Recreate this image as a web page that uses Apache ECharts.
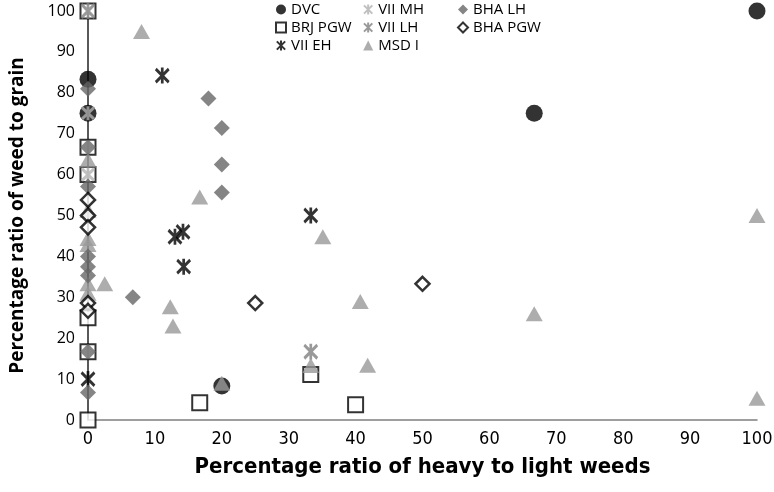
<!DOCTYPE html>
<html>
<head>
<meta charset="utf-8">
<script src="https://cdn.jsdelivr.net/npm/echarts@6/dist/echarts.min.js"></script>
<style>html,body{margin:0;padding:0;background:#fff}#c{width:774px;height:492px}</style>
</head>
<body>
<div id="c"></div>
<script>
// Data: [x = % heavy to light weeds, y = % weed to grain]
const xTicks = [0,10,20,30,40,50,60,70,80,90,100];
const yTicks = [0,10,20,30,40,50,60,70,80,90,100];
const dvc    = [[100,100],[66.7,75],[20,8.3],[0,83.3],[0,75]];
const brjPgw = [[0,100],[0,66.7],[0,60],[0,25],[0,16.7],[0,0],[16.7,4.2],[33.3,11.1],[40,3.7]];
const viiEh  = [[11.1,84.2],[13.0,44.8],[14.2,46.0],[14.3,37.5],[33.3,50],[0,10]];
const viiMh  = [[0,75],[0,60]];
const viiLh  = [[0,100],[33.3,16.7]];
const msdI   = [[8,95],[16.7,54.5],[35.1,44.8],[2.5,33.3],[12.3,27.7],[12.7,23],[40.7,29],[41.8,13.4],[20,9],[33.3,13.3],[66.7,26],[100,50],[100,5.3],[0,63.6],[0,51.3],[0,44.4],[0,42.9],[0,33.3],[0,31]];
const bhaLh  = [[18,78.6],[20,71.4],[20,62.5],[20,55.6],[6.7,30],[0,81],[0,66.7],[0,57.1],[0,40],[0,37.5],[0,35.3],[0,16.7],[0,6.7]];
const bhaPgw = [[25,28.6],[50,33.3],[0,53.8],[0,50],[0,47.1],[0,28.6],[0,26.7]];

const star = 'path://M0,1L10,11M10,1L0,11M5,0L5,12';
const chart = echarts.init(document.getElementById('c'));
const legendText = {fontFamily:'"Open Sans", sans-serif', fontSize:15, color:'#000', lineHeight:15};
const legendBase = {orient:'vertical', top:2, itemWidth:10, itemHeight:10, itemGap:3, textStyle:legendText, padding:0, selectedMode:false};
const narrow = '"DejaVu Sans Condensed","Liberation Sans Narrow",sans-serif';
chart.setOption({
  animation:false,
  backgroundColor:'#fff',
  legend:[
    Object.assign({left:275, data:['DVC','BRJ PGW','VII EH']}, legendBase),
    Object.assign({left:363, data:['VII MH','VII LH','MSD I']}, legendBase),
    Object.assign({left:457, data:['BHA LH','BHA PGW']}, legendBase)
  ],
  grid:{left:88, right:17, top:11, bottom:72, containLabel:false, outerBoundsMode:'none'},
  xAxis:{
    type:'value', min:xTicks[0], max:xTicks[xTicks.length-1], interval:10,
    name:'Percentage ratio of heavy to light weeds', nameLocation:'middle', nameGap:36,
    nameTextStyle:{fontFamily:narrow, fontWeight:'bold', fontSize:22, color:'#000'},
    axisLine:{show:true, onZero:false, lineStyle:{color:'#7f7f7f', width:1.5}},
    axisTick:{show:false},
    splitLine:{show:false},
    axisLabel:{margin:10, fontFamily:narrow, fontSize:18, color:'#000'}
  },
  yAxis:{
    type:'value', min:yTicks[0], max:yTicks[yTicks.length-1], interval:10,
    name:'Percentage ratio of weed to grain', nameLocation:'middle', nameGap:61,
    nameTextStyle:{fontFamily:'"Open Sans",sans-serif', fontWeight:'bold', fontSize:19, color:'#000'},
    axisLine:{show:true, onZero:false, lineStyle:{color:'#222', width:1.5}},
    axisTick:{show:false},
    splitLine:{show:false},
    axisLabel:{margin:13, fontFamily:'"Open Sans",sans-serif', fontSize:16, color:'#000'}
  },
  series:[
    {name:'DVC', type:'scatter', data:dvc, symbol:'circle', symbolSize:17, itemStyle:{color:'#000'}},
    {name:'BRJ PGW', type:'scatter', data:brjPgw, symbol:'rect', symbolSize:15, itemStyle:{color:'#fff', borderColor:'#000', borderWidth:2}},
    {name:'VII EH', type:'scatter', data:viiEh, symbol:star, symbolSize:[13,16], itemStyle:{color:'transparent', borderColor:'#000', borderWidth:3}},
    {name:'VII MH', type:'scatter', data:viiMh, symbol:star, symbolSize:[12,14], itemStyle:{color:'transparent', borderColor:'#b0b0b0', borderWidth:3}},
    {name:'VII LH', type:'scatter', data:viiLh, symbol:star, symbolSize:[13,16], itemStyle:{color:'transparent', borderColor:'#808080', borderWidth:3}},
    {name:'MSD I', type:'scatter', data:msdI, symbol:'triangle', symbolSize:[17,15], itemStyle:{color:'#999'}},
    {name:'BHA LH', type:'scatter', data:bhaLh, symbol:'diamond', symbolSize:16, itemStyle:{color:'#666'}},
    {name:'BHA PGW', type:'scatter', data:bhaPgw, symbol:'diamond', symbolSize:14, itemStyle:{color:'#fff', borderColor:'#000', borderWidth:2.5}}
  ]
});
</script>
</body>
</html>
